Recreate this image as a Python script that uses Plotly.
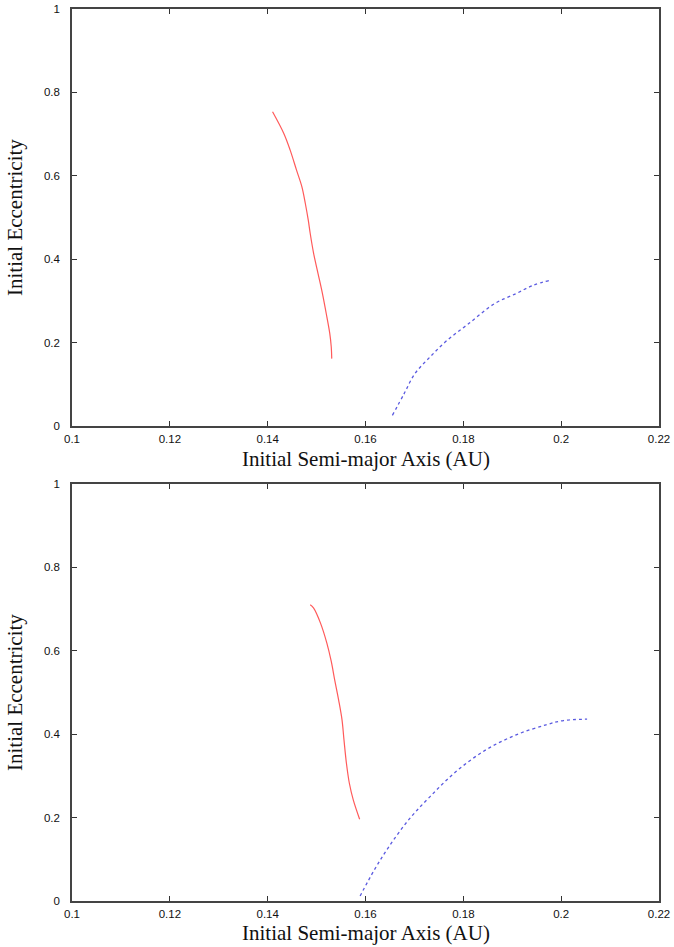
import plotly.graph_objects as go

# Top panel
top_red_a = [0.1410, 0.1433, 0.1446, 0.1459, 0.1470, 0.1477, 0.1483, 0.1487, 0.1494, 0.1503, 0.1512, 0.1521, 0.1527, 0.1530, 0.1531]
top_red_e = [0.7536, 0.7016, 0.6616, 0.6136, 0.5736, 0.5336, 0.4936, 0.4616, 0.4136, 0.3656, 0.3176, 0.2616, 0.2216, 0.1896, 0.1616]
top_blue_a = [0.1655, 0.1679, 0.1701, 0.1732, 0.1767, 0.1811, 0.1864, 0.1908, 0.1943, 0.1977]
top_blue_e = [0.0256, 0.0776, 0.1256, 0.1656, 0.2056, 0.2456, 0.2936, 0.3176, 0.3376, 0.3496]

# Bottom panel
bot_red_a = [0.1487, 0.1494, 0.1508, 0.1521, 0.1530, 0.1537, 0.1545, 0.1552, 0.1556, 0.1561, 0.1567, 0.1575, 0.1588]
bot_red_e = [0.7104, 0.7024, 0.6664, 0.6184, 0.5744, 0.5304, 0.4824, 0.4344, 0.3864, 0.3304, 0.2824, 0.2424, 0.1960]
bot_blue_a = [0.1589, 0.1618, 0.1648, 0.1688, 0.1732, 0.1785, 0.1846, 0.1908, 0.1969, 0.2005, 0.2053]
bot_blue_e = [0.0120, 0.0744, 0.1304, 0.1944, 0.2504, 0.3104, 0.3624, 0.3984, 0.4224, 0.4328, 0.4360]

x_ticks = [0.1, 0.12, 0.14, 0.16, 0.18, 0.2, 0.22]
x_ticktext = ["0.1", "0.12", "0.14", "0.16", "0.18", "0.2", "0.22"]
y_ticks = [0, 0.2, 0.4, 0.6, 0.8, 1]
y_ticktext = ["0", "0.2", "0.4", "0.6", "0.8", "1"]
x_title = "Initial Semi-major Axis (AU)"
y_title = "Initial Eccentricity"

RED = "#ff5a5a"
BLUE = "#5a5ae0"

fig = go.Figure()
fig.add_trace(go.Scatter(x=top_red_a, y=top_red_e, mode="lines", line=dict(color=RED, width=1.2, shape="spline"),
                         xaxis="x", yaxis="y", showlegend=False))
fig.add_trace(go.Scatter(x=top_blue_a, y=top_blue_e, mode="lines", line=dict(color=BLUE, width=1.3, dash="dot", shape="spline"),
                         xaxis="x", yaxis="y", showlegend=False))
fig.add_trace(go.Scatter(x=bot_red_a, y=bot_red_e, mode="lines", line=dict(color=RED, width=1.2, shape="spline"),
                         xaxis="x2", yaxis="y2", showlegend=False))
fig.add_trace(go.Scatter(x=bot_blue_a, y=bot_blue_e, mode="lines", line=dict(color=BLUE, width=1.3, dash="dot", shape="spline"),
                         xaxis="x2", yaxis="y2", showlegend=False))

tickfont = dict(family="Liberation Sans, Arial, sans-serif", size=11.5, color="#111")
titlefont = dict(family="Liberation Serif, Times New Roman, serif", size=21, color="#111")

def xax(anchor):
    return dict(range=[0.1, 0.22], tickvals=x_ticks, ticktext=x_ticktext, ticks="inside", ticklen=5, tickcolor="#333",
                showline=True, linecolor="#444", linewidth=1.5, mirror="ticks", showgrid=False,
                zeroline=False, tickfont=tickfont, anchor=anchor, automargin=False, ticklabelstandoff=1)

def yax(domain, anchor):
    return dict(range=[0, 1], tickvals=y_ticks, ticktext=y_ticktext, ticks="inside", ticklen=5, tickcolor="#333",
                showline=True, linecolor="#444", linewidth=1.5, mirror="ticks", showgrid=False,
                zeroline=False, tickfont=tickfont, domain=domain, anchor=anchor, automargin=False,
                ticklabelstandoff=8)

annotations = []
for ypos in [0.4955, -0.0359]:
    annotations.append(dict(text=x_title, xref="paper", yref="paper", x=0.5, y=ypos,
                            xanchor="center", yanchor="middle", showarrow=False, font=titlefont))
for ypos in [0.7662, 0.2337]:
    annotations.append(dict(text=y_title, xref="paper", yref="paper", x=-0.098, y=ypos, textangle=-90,
                            xanchor="center", yanchor="middle", showarrow=False, font=titlefont))

fig.update_layout(
    width=674, height=947,
    margin=dict(l=72, r=15, t=9, b=46, autoexpand=False),
    paper_bgcolor="white", plot_bgcolor="white",
    xaxis=xax("y"),
    yaxis=yax([0.5325, 1.0], "x"),
    xaxis2=xax("y2"),
    yaxis2=yax([0.0, 0.4675], "x2"),
    annotations=annotations,
)

fig.write_html("out.html", config={"displayModeBar": False},
               post_script="document.body.style.margin='0';document.body.style.overflow='hidden';")
